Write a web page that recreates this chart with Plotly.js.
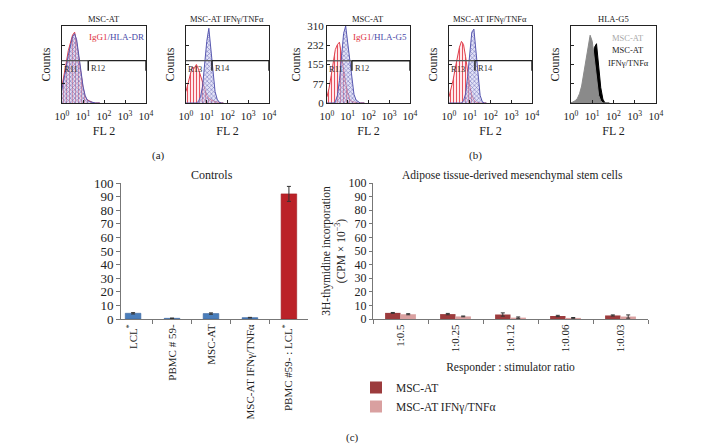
<!DOCTYPE html>
<html><head><meta charset="utf-8">
<script src="https://cdn.plot.ly/plotly-3.0.1.min.js"></script>
<style>html,body{margin:0;padding:0;background:#fff}#chart{width:724px;height:446px}</style>
</head><body><div id="chart"></div>
<script>
// ---------- DATA ----------
// flow cytometry histogram bins (log10 of FL2 intensity)
const logBins = [0,0.1,0.2,0.3,0.4,0.5,0.6,0.7,0.8,0.9,1.0,1.1,1.2,1.3,1.4,1.5,1.6,1.7,1.8];
const decadeLabels = ['10<sup>0</sup>','10<sup>1</sup>','10<sup>2</sup>','10<sup>3</sup>','10<sup>4</sup>'];
const decadeVals = [0,1,2,3,4];
// (a) HLA-DR, % of full scale
const p1IgG1  = [22,35,52,68,80,88,92,78,58,38,20,8,4,3,1,0,0,0,0];
const p1HLADR = [18,30,46,62,75,86,90,82,62,40,22,10,4,2,1,0,0,0,0];
const p2IgG1  = [15,25,38,47,45,50,44,35,25,16,10,6,4,3,2,1,0,0,0];
const p2HLADR = [0,0,0,0,0,0,2,8,22,50,80,97,72,38,15,5,1,0,0];
// (b) HLA-G5, counts
const p3IgG1  = [25,60,110,170,215,235,245,190,130,80,40,15,6,3,1,0,0,0,0];
const p3HLAG5 = [0,0,0,0,5,30,90,190,280,310,240,150,80,35,12,4,0,0,0];
const p3Ticks = [0,77,155,232,310];
const p4IgG1  = [8,18,30,45,60,72,80,76,60,40,22,10,4,1,0,0,0,0,0];
const p4HLAG5 = [0,0,0,0,0,0,0,3,12,35,68,92,96,65,30,10,2,0,0];
// HLA-G5 overlay, % of full scale
const p5MSCAT  = [0,1,3,6,12,22,38,58,75,88,80,55,28,10,3,0,0,0,0];
const p5IFN    = [0,0,0,0,0,0,0,0,5,25,55,72,77,50,20,5,0,0,0];
// gates (level, divider) for panels 1-4
const gateLevel = [55,55,170,55];
const gateDiv   = [1.25,1.25,1.2,1.25];
const gateNames = [['R11','R12'],['R13','R14'],['R11','R12'],['R13','R14']];

// (c) proliferation
const ctrlCats = ['LCL<sup>*</sup>','PBMC # 59-','MSC-AT','MSC-AT IFNγ/TNFα','PBMC #59- : LCL<sup>*</sup>'];
const ctrlVals = [4.2,0.5,4.0,1.0,92];
const ctrlErr  = [0.5,0.2,0.5,0.2,5.5];
const ratioCats = ['1:0.5','1:0.25','1:0.12','1:0.06','1:0.03'];
const mscVals = [4.5,3.6,3.3,2.2,2.6];
const mscErr  = [0.3,0.5,1.2,0.5,0.4];
const ifnVals = [3.5,1.9,1.0,0.8,1.8];
const ifnErr  = [0.4,0.3,0.5,0.3,1.2];

// ---------- LAYOUT HELPERS ----------
const W=724,H=446;
const px=a=>a/W, py=b=>1-b/H;
const FONT='"Liberation Serif","Times New Roman",serif';
const histX=[[62,146],[186,269],[327,410],[449,532],[571,656]];
const histTop=26, histBot=103;

const redStyle={line:'#e0404c',fg:'rgba(225,55,70,0.85)',bg:'rgba(255,215,220,0.55)',shape:'|'};
const blueStyle={line:'#5858b0',fg:'rgba(80,80,170,0.75)',bg:'rgba(205,205,240,0.55)',shape:'x'};

function histTrace(y,n,st){
  const s=n===1?'':String(n);
  return {type:'scatter',x:logBins,y:y,xaxis:'x'+s,yaxis:'y'+s,mode:'lines',fill:'tozeroy',
    line:{color:st.line,width:1},fillcolor:st.bg,
    fillpattern:{shape:st.shape,fgcolor:st.fg,bgcolor:st.bg,size:3,solidity:0.35},
    showlegend:false,hoverinfo:'skip'};
}
function solidTrace(y,n,color){
  return {type:'scatter',x:logBins,y:y,xaxis:'x'+n,yaxis:'y'+n,mode:'lines',fill:'tozeroy',
    line:{color:color,width:1},fillcolor:color,showlegend:false,hoverinfo:'skip'};
}

const traces=[
  histTrace(p1IgG1,1,redStyle), histTrace(p1HLADR,1,blueStyle),
  histTrace(p2IgG1,2,redStyle), histTrace(p2HLADR,2,blueStyle),
  histTrace(p3IgG1,3,redStyle), histTrace(p3HLAG5,3,blueStyle),
  histTrace(p4IgG1,4,redStyle), histTrace(p4HLAG5,4,blueStyle),
  solidTrace(p5IFN,5,'#000000'), solidTrace(p5MSCAT,5,'#8a8a8a'),
  {type:'bar',x:ctrlCats,y:ctrlVals,xaxis:'x6',yaxis:'y6',width:0.4,
   marker:{color:['#4a7ebb','#4a7ebb','#4a7ebb','#4a7ebb','#bb2228'],line:{color:['#3a65a0','#3a65a0','#3a65a0','#3a65a0','#9e1b20'],width:0.6}},
   error_y:{type:'data',array:ctrlErr,color:'#333',thickness:1,width:2},showlegend:false,hoverinfo:'skip'},
  {type:'bar',name:'MSC-AT',x:ratioCats,y:mscVals,xaxis:'x7',yaxis:'y7',
   marker:{color:'#9c3b3d'},error_y:{type:'data',array:mscErr,color:'#333',thickness:1,width:2}},
  {type:'bar',name:'MSC-AT IFNγ/TNFα',x:ratioCats,y:ifnVals,xaxis:'x7',yaxis:'y7',
   marker:{color:'#d9a0a0'},error_y:{type:'data',array:ifnErr,color:'#333',thickness:1,width:2}}
];

const layout={width:W,height:H,margin:{l:0,r:0,t:0,b:0},paper_bgcolor:'#fff',plot_bgcolor:'rgba(0,0,0,0)',
  font:{family:FONT,color:'#222',size:11},barmode:'group',bargap:0.44,bargroupgap:0,
  showlegend:true,
  legend:{x:px(356),y:py(373),xanchor:'left',yanchor:'top',bgcolor:'rgba(0,0,0,0)',font:{size:11.5},tracegroupgap:0,itemwidth:30},
  shapes:[],annotations:[]};

for(let i=1;i<=5;i++){
  const s=i===1?'':String(i);
  const isCounts=(i===3);
  layout['xaxis'+s]={domain:[px(histX[i-1][0]),px(histX[i-1][1])],anchor:'y'+s,range:[0,4],
    tickvals:decadeVals,ticktext:decadeLabels,ticks:'inside',ticklen:3,tickcolor:'#222',
    showline:true,mirror:true,linecolor:'#222',linewidth:1,showgrid:false,zeroline:false,
    ticklabelstandoff:3,
    tickfont:{size:11},title:{text:'FL 2',font:{size:12},standoff:5}};
  layout['yaxis'+s]={domain:[py(histBot),py(histTop)],anchor:'x'+s,
    range:isCounts?[0,310]:[0,100],
    tickvals:isCounts?p3Ticks:[0,25,50,75,100],ticktext:isCounts?p3Ticks.map(String):undefined,
    ticks:'inside',ticklen:3,tickcolor:'#222',showticklabels:isCounts,
    showline:true,mirror:true,linecolor:'#222',linewidth:1,showgrid:false,zeroline:false,
    tickfont:{size:11},title:{text:'Counts',font:{size:12},standoff:isCounts?4:7}};
}
layout.xaxis6={domain:[px(121),px(308)],anchor:'y6',type:'category',range:[-0.31,4.49],tickson:'boundaries',
  ticks:'outside',ticklen:4,tickcolor:'#777',tickangle:-90,showline:true,linecolor:'#777',showgrid:false,tickfont:{size:11}};
layout.yaxis6={domain:[py(319),py(183)],anchor:'x6',range:[0,100],dtick:10,ticks:'outside',ticklen:4,tickcolor:'#777',
  showline:true,linecolor:'#777',showgrid:false,zeroline:false,tickfont:{size:13}};
layout.xaxis7={domain:[px(373),px(648)],anchor:'y7',type:'category',range:[-0.5,4.5],tickson:'boundaries',
  ticks:'outside',ticklen:4,tickcolor:'#777',tickangle:-90,showline:true,linecolor:'#777',showgrid:false,tickfont:{size:11},
  title:{text:'Responder : stimulator ratio',font:{size:11.5},standoff:11}};
layout.yaxis7={domain:[py(319),py(183)],anchor:'x7',range:[0,100],dtick:10,ticks:'outside',ticklen:3,tickcolor:'#777',
  showline:true,linecolor:'#777',showgrid:false,zeroline:false,tickfont:{size:12},
  title:{text:'3H-thymidine incorporation<br>(CPM × 10<sup>−3</sup>)',font:{size:11.5},standoff:0}};

// gates
for(let g=0;g<4;g++){
  const s=g===0?'':String(g+1);
  const top=layout['yaxis'+s].range[1];
  const lev=gateLevel[g], drop=top*0.13, d=gateDiv[g];
  const xr='x'+s, yr='y'+s;
  layout.shapes.push({type:'line',xref:xr,yref:yr,x0:0,x1:d,y0:lev,y1:lev,line:{color:'#555',width:1.3}});
  layout.shapes.push({type:'line',xref:xr,yref:yr,x0:d,x1:4,y0:lev,y1:lev,line:{color:'#222',width:1.3}});
  layout.shapes.push({type:'line',xref:xr,yref:yr,x0:d,x1:d,y0:lev,y1:lev-drop,line:{color:'#222',width:1.5}});
  layout.shapes.push({type:'line',xref:xr,yref:yr,x0:4,x1:4,y0:lev,y1:lev-drop,line:{color:'#222',width:1.5}});
  layout.annotations.push({xref:xr,yref:yr,x:0.02,y:lev-top*0.02,xanchor:'left',yanchor:'top',showarrow:false,text:gateNames[g][0],font:{size:8.5,color:'#333'}});
  layout.annotations.push({xref:xr,yref:yr,x:d+0.04,y:lev-top*0.0,xanchor:'left',yanchor:'top',showarrow:false,text:gateNames[g][1],font:{size:8.5,color:'#333'}});
}

function note(x,y,text,size,opts){
  layout.annotations.push(Object.assign({xref:'paper',yref:'paper',x:px(x),y:py(y),xanchor:'center',yanchor:'middle',
    showarrow:false,text:text,font:{size:size}},opts||{}));
}
note(104,19,'MSC-AT',8.5);
note(227,19,'MSC-AT IFNγ/TNFα',8.5);
note(368,19,'MSC-AT',8.5);
note(490,19,'MSC-AT IFNγ/TNFα',8.5);
note(613,19,'HLA-G5',8.5);
note(116,37,'<span style="color:#e0303c">IgG1</span><span style="color:#4a4aa8">/HLA-DR</span>',9);
note(380,37,'<span style="color:#e0303c">IgG1</span><span style="color:#4a4aa8">/HLA-G5</span>',9);
note(628,38,'<span style="color:#a8a8a8">MSC-AT</span>',8.5);
note(628,50,'MSC-AT',8.5);
note(628,63,'IFNγ/TNFα',8.5);
note(158,155,'(a)',11);
note(475,155,'(b)',11);
note(352,437,'(c)',11);
note(212,175,'Controls',12);
note(512,175,'Adipose tissue-derived mesenchymal stem cells',11.5);

Plotly.newPlot('chart',traces,layout,{displayModeBar:false,staticPlot:true});
</script></body></html>
